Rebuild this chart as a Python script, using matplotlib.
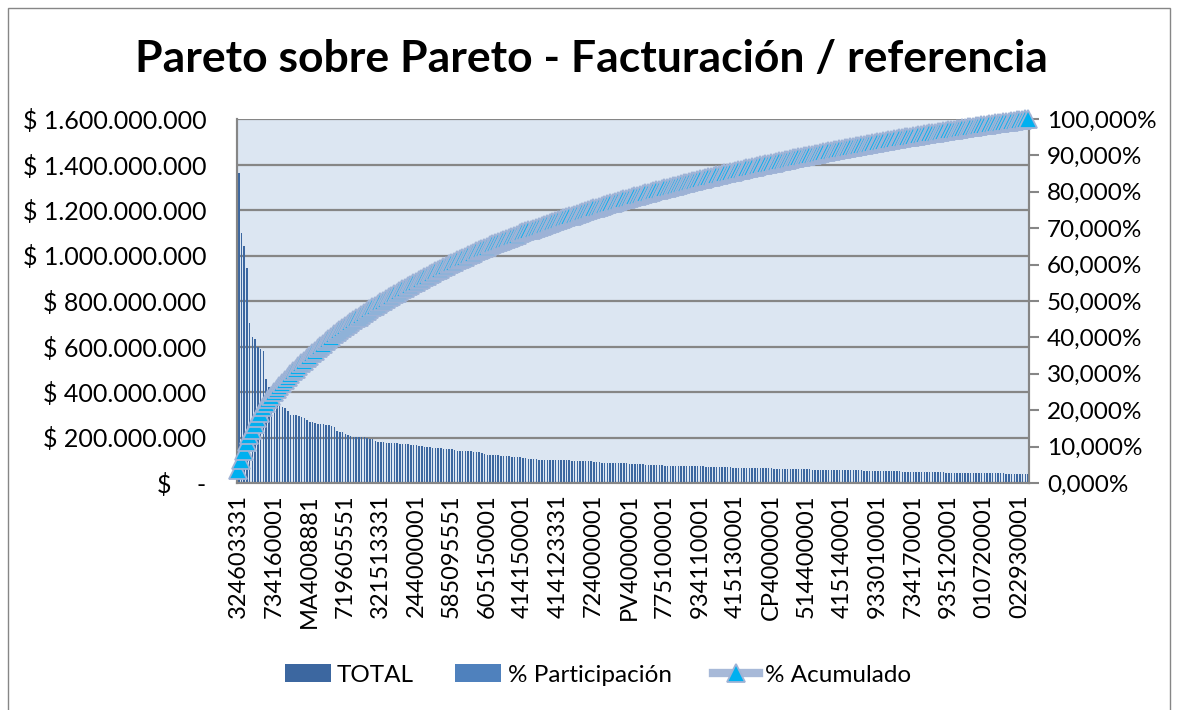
import matplotlib
matplotlib.use("Agg")
import matplotlib.pyplot as plt
from matplotlib.patches import Patch, Rectangle
from matplotlib.lines import Line2D
from matplotlib.ticker import FixedLocator, FuncFormatter
import numpy as np

plt.rcParams["font.family"] = ["Lato", "DejaVu Sans"]

# ── Data (facturación por referencia, millones de $) ─────────────────────────
total_mill = [
    1361, 1097, 1042, 945, 704, 640, 632, 600, 588, 580,
    455, 420, 386, 364, 350, 340, 334, 328, 316, 300,
    298, 298, 296, 291, 287, 277, 267, 266, 265, 259,
    258, 258, 257, 256, 252, 244, 230, 226, 223, 215,
    210, 205, 204, 203, 203, 202, 201, 196, 195, 194,
    185, 181, 180, 179, 177, 176, 176, 175, 175, 173,
    173, 172, 170, 169, 166, 165, 163, 161, 160, 159,
    157, 156, 156, 153, 152, 151, 149, 148, 148, 145,
    141, 140, 140, 140, 139, 139, 138, 136, 135, 131,
    129, 125, 124, 124, 123, 122, 120, 118, 117, 117,
    116, 115, 114, 114, 110, 108, 107, 105, 104, 104,
    103, 103, 102, 101, 101, 101, 100, 100, 100, 99,
    99, 99, 97, 97, 97, 96, 96, 96, 95, 95,
    94, 93, 91, 90, 90, 89, 89, 87, 87, 87,
    86, 86, 86, 85, 83, 83, 82, 82, 82, 81,
    79, 79, 78, 78, 78, 77, 76, 76, 76, 75,
    75, 75, 75, 74, 74, 74, 74, 73, 73, 73,
    73, 72, 72, 71, 70, 70, 70, 70, 69, 69,
    69, 68, 68, 68, 68, 67, 66, 66, 66, 66,
    65, 65, 64, 64, 64, 64, 63, 63, 63, 63,
    62, 62, 61, 61, 61, 61, 60, 60, 60, 60,
    59, 59, 59, 59, 58, 58, 58, 57, 57, 57,
    57, 56, 56, 56, 55, 55, 55, 55, 55, 54,
    54, 54, 53, 53, 53, 52, 52, 52, 51, 51,
    51, 51, 51, 50, 50, 50, 50, 49, 49, 49,
    49, 48, 48, 48, 47, 47, 47, 47, 47, 46,
    46, 46, 46, 45, 45, 45, 45, 44, 44, 44,
    44, 44, 43, 43, 43, 43, 42, 42, 42, 42,
    42, 41, 41, 41, 40, 40, 40, 40, 39, 39,
]

tick_every = 13
tick_labels = [
    "324603331", "734160001", "MA4008881", "719605551", "321513331",
    "244000001", "585095551", "605150001", "414150001", "414123331",
    "724000001", "PV4000001", "775100001", "934110001", "415130001",
    "CP4000001", "514400001", "415140001", "933010001", "734170001",
    "935120001", "010720001", "022930001",
]

total = np.array(total_mill, dtype=float) * 1e6
n = len(total)
participacion = total / total.sum()
acumulado = np.cumsum(participacion)
x = np.arange(n)

# ── Figure ───────────────────────────────────────────────────────────────────
fig = plt.figure(figsize=(11.78, 7.10), dpi=100)
ax = fig.add_axes([237 / 1178, 1 - 483 / 710, 792 / 1178, 364 / 710])
ax.set_facecolor("#DCE6F2")
ax2 = ax.twinx()

grey = "#868686"
bar_blue = "#3C67A0"
ax.bar(x + 0.15, total, width=0.55, color=bar_blue, linewidth=0, zorder=2)
ax.bar(x + 0.45, participacion, width=0.1, color="#4F81BD", linewidth=0, zorder=2)

ax.set_xlim(-0.5, n - 0.5)
ax.set_ylim(0, 1.6e9)
ax.set_yticks(np.arange(0, 1.6e9 + 1, 2e8))


def pesos(v, pos):
    if v == 0:
        return "$    -"
    return "$ " + f"{v:,.0f}".replace(",", ".")


ax.yaxis.set_major_formatter(FuncFormatter(pesos))
ax.yaxis.grid(True, color=grey, linewidth=1.6, zorder=1)
ax.set_axisbelow(True)
ax.tick_params(axis="y", length=0, labelsize=18, pad=22)

tick_pos = np.arange(len(tick_labels)) * tick_every
ax.xaxis.set_major_locator(FixedLocator(tick_pos))
ax.set_xticklabels(tick_labels, rotation=90, fontsize=17)
ax.tick_params(axis="x", length=0, pad=8)

line_kw = dict(color="#A7B9D8", linewidth=6, marker="^", markersize=12.5,
               markerfacecolor="#00B0F0", markeredgecolor="#9FB3D6",
               markeredgewidth=1.3)
ax2.plot(x, acumulado, clip_on=False, zorder=3, **line_kw)
ax2.set_ylim(0, 1.0)
ax2.set_yticks(np.arange(0, 1.0001, 0.1))
ax2.yaxis.set_major_formatter(
    FuncFormatter(lambda v, p: f"{v * 100:.3f}".replace(".", ",") + "%"))
ax2.tick_params(axis="y", direction="out", length=7, width=1.5, color=grey,
                labelsize=17.5, pad=6)

for a in (ax, ax2):
    a.spines["top"].set_visible(False)
    for s in ("left", "right", "bottom"):
        a.spines[s].set_color(grey)
        a.spines[s].set_linewidth(1.5)

fig.text(591 / 1178, 1 - 59 / 710, "Pareto sobre Pareto - Facturación / referencia",
         fontsize=32, fontweight="bold", ha="center", va="center")

handles = [
    Patch(facecolor=bar_blue),
    Patch(facecolor="#4F81BD"),
    Line2D([], [], **line_kw),
]
fig.legend(handles, ["TOTAL", "% Participación", "% Acumulado"],
           loc="center", bbox_to_anchor=(598 / 1178, 1 - 675 / 710), ncol=3,
           frameon=False, fontsize=17.5, handlelength=1.9, handletextpad=0.25,
           columnspacing=1.7)

fig.patches.append(Rectangle((8 / 1178, -0.01), 1162 / 1178, 1 - 8 / 710 + 0.01,
                             transform=fig.transFigure, fill=False,
                             edgecolor=grey, linewidth=1))

fig.savefig("out.png", dpi=100)
